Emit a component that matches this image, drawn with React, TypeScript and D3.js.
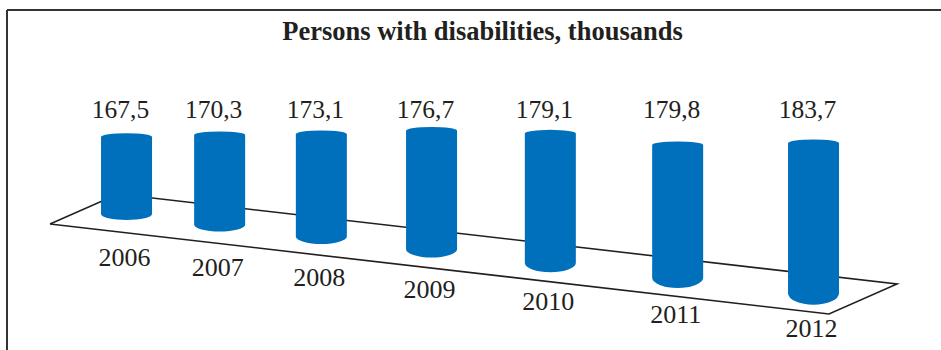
import React from "react";
import * as d3 from "d3";

const years = ["2006", "2007", "2008", "2009", "2010", "2011", "2012"];
const values = [167.5, 170.3, 173.1, 176.7, 179.1, 179.8, 183.7];
const valueLabels = ["167,5", "170,3", "173,1", "176,7", "179,1", "179,8", "183,7"];
const title = "Persons with disabilities, thousands";

const W = 941;
const H = 350;
const BAR_COLOR = "#0070bd";
const INK = "#231f20";
const FONT = "'Liberation Serif', 'Times New Roman', serif";

export default function App() {
  // perspective position along the floor
  const pos = d3.scalePoint<string>().domain(years).range([0, 1]);
  const persp = (t: number) => 0.776 * t + 0.224 * t * t;
  const floorT = d3.scaleLinear().domain([0, 1]).range([0.0546, 0.9365]);

  // floor parallelogram: front-left corner, width vector, depth vector
  const F0: [number, number] = [50, 224];
  const WV: [number, number] = [779, 90];
  const DV: [number, number] = [68, -30];
  const floorPts: [number, number][] = [
    F0,
    [F0[0] + WV[0], F0[1] + WV[1]],
    [F0[0] + WV[0] + DV[0], F0[1] + WV[1] + DV[1]],
    [F0[0] + DV[0], F0[1] + DV[1]],
  ];
  const floorPath = d3.line()(floorPts.concat([F0])) as string;

  const base = (p: number): [number, number] => {
    const t = floorT(p);
    return [F0[0] + t * WV[0] + 0.5 * DV[0], F0[1] + t * WV[1] + 0.5 * DV[1]];
  };

  const hScale = d3.scaleLinear().domain([150.45, 183.7]).range([0, 150.3]);
  const ryBottom = d3.scaleLinear().domain([0, 1]).range([6, 11.4]);
  const rx = 25.5;
  const ryTop = 3.5;

  const bars = years.map((y, i) => {
    const p = persp(pos(y) as number);
    const [cx, by] = base(p);
    const ty = by - hScale(values[i]);
    const rb = ryBottom(p);
    const path = d3.path();
    path.moveTo(cx - rx, ty);
    // top dome and bottom arc as elliptical arcs
    const d =
      `M${cx - rx},${ty} A${rx},${ryTop} 0 0 1 ${cx + rx},${ty} ` +
      `L${cx + rx},${by} A${rx},${rb} 0 0 1 ${cx - rx},${by} Z`;
    return { y, cx, by, ty, p, d, label: valueLabels[i] };
  });

  return (
    <svg
      width={W}
      height={H}
      style={{ position: "absolute", left: 0, top: 0, background: "#fff" }}
    >
      <rect x={0} y={0} width={W} height={H} fill="#fff" />
      {/* frame */}
      <line x1={7} y1={10} x2={W} y2={10} stroke="#333" strokeWidth={2} />
      <line x1={7} y1={10} x2={7} y2={H} stroke="#333" strokeWidth={2} />

      <text
        x={482.5}
        y={40}
        textAnchor="middle"
        fontFamily={FONT}
        fontWeight="bold"
        fontSize={26.5}
        fill={INK}
      >
        {title}
      </text>

      {/* floor */}
      <path d={floorPath} fill="#fff" stroke={INK} strokeWidth={1.6} strokeLinejoin="miter" />

      {/* cylinders */}
      {bars.map((b) => (
        <path key={b.y} d={b.d} fill={BAR_COLOR} />
      ))}

      {/* value labels */}
      {bars.map((b) => (
        <text
          key={"v" + b.y}
          x={b.cx - 6}
          y={117.5}
          textAnchor="middle"
          fontFamily={FONT}
          fontSize={25.5}
          fill={INK}
        >
          {b.label}
        </text>
      ))}

      {/* category labels */}
      {bars.map((b) => (
        <text
          key={"c" + b.y}
          x={b.cx - 2}
          y={b.by + 52 - 8 * b.p}
          textAnchor="middle"
          fontFamily={FONT}
          fontSize={26}
          fill={INK}
        >
          {b.y}
        </text>
      ))}
    </svg>
  );
}
